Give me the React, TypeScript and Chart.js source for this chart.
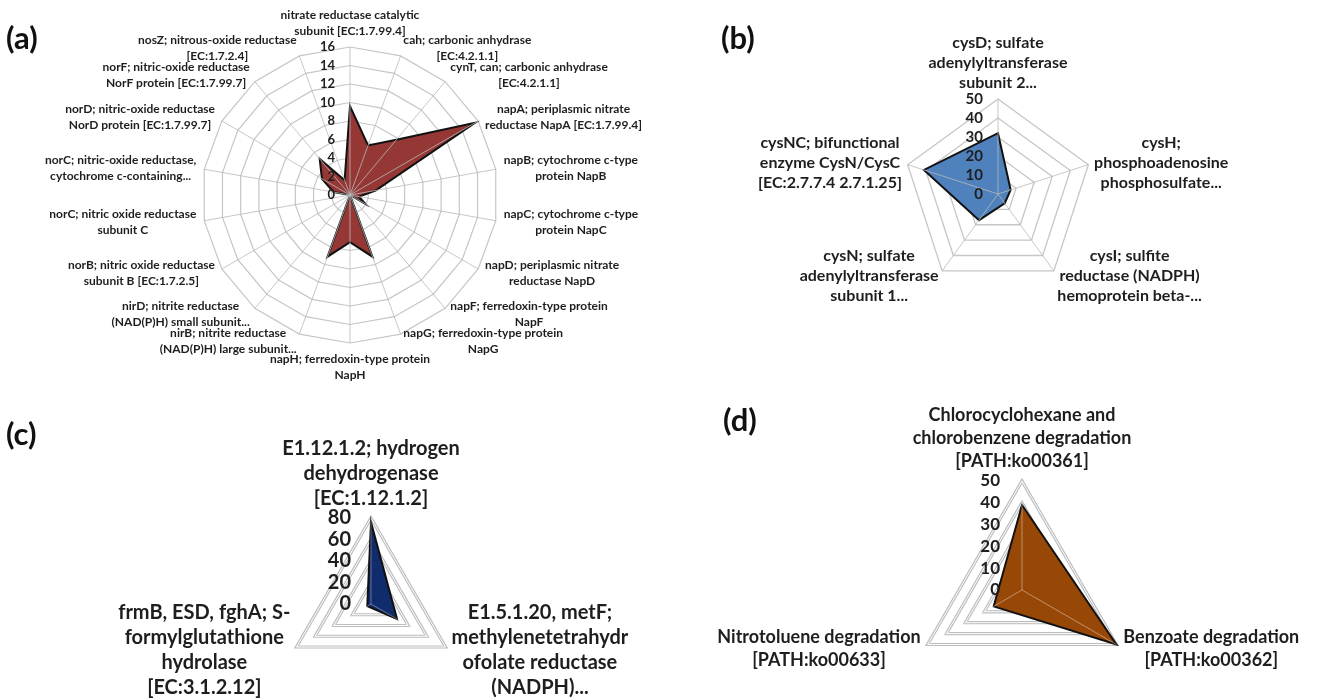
import React, { useEffect, useRef } from 'react';
import { Chart, registerables } from 'chart.js';

Chart.register(...registerables);

const W = 1318;
const H = 699;
const FONT = "Lato, 'Liberation Sans', 'DejaVu Sans', sans-serif";
const TEXT = '#1e1e1e';

// ---------- Panel (a): nitrogen metabolism ----------
const aCategories: string[][] = [
  ['nitrate reductase catalytic', 'subunit [EC:1.7.99.4]'],
  ['cah; carbonic anhydrase', '[EC:4.2.1.1]'],
  ['cynT, can; carbonic anhydrase', '[EC:4.2.1.1]'],
  ['napA; periplasmic nitrate', 'reductase NapA [EC:1.7.99.4]'],
  ['napB; cytochrome c-type', 'protein NapB'],
  ['napC; cytochrome c-type', 'protein NapC'],
  ['napD; periplasmic nitrate', 'reductase NapD'],
  ['napF; ferredoxin-type protein', 'NapF'],
  ['napG; ferredoxin-type protein', 'NapG'],
  ['napH; ferredoxin-type protein', 'NapH'],
  ['nirB; nitrite reductase', '(NAD(P)H) large subunit...'],
  ['nirD; nitrite reductase', '(NAD(P)H) small subunit...'],
  ['norB; nitric oxide reductase', 'subunit B [EC:1.7.2.5]'],
  ['norC; nitric oxide reductase', 'subunit C'],
  ['norC; nitric-oxide reductase,', 'cytochrome c-containing...'],
  ['norD; nitric-oxide reductase', 'NorD protein [EC:1.7.99.7]'],
  ['norF; nitric-oxide reductase', 'NorF protein [EC:1.7.99.7]'],
  ['nosZ; nitrous-oxide reductase', '[EC:1.7.2.4]'],
];
const aValues = [9.6, 5.7, 7.8, 15.6, 2.8, 1.0, 1.9, 0, 7.1, 5.1, 7.1, 0, 0, 0, 1.8, 3.5, 5.1, 1.7];
const aScale = { max: 16, step: 2 };

// ---------- Panel (b): sulfur metabolism ----------
const bCategories: string[][] = [
  ['cysD; sulfate', 'adenylyltransferase', 'subunit 2...'],
  ['cysH;', 'phosphoadenosine', 'phosphosulfate...'],
  ['cysI; sulfite', 'reductase (NADPH)', 'hemoprotein beta-...'],
  ['cysN; sulfate', 'adenylyltransferase', 'subunit 1...'],
  ['cysNC; bifunctional', 'enzyme CysN/CysC', '[EC:2.7.7.4 2.7.1.25]'],
];
const bValues = [32, 7, 6, 17, 41];
const bScale = { max: 50, step: 10 };

// ---------- Panel (c): methane / hydrogen ----------
const cCategories: string[][] = [
  ['E1.12.1.2; hydrogen', 'dehydrogenase', '[EC:1.12.1.2]'],
  ['E1.5.1.20, metF;', 'methylenetetrahydr', 'ofolate reductase', '(NADPH)...'],
  ['frmB, ESD, fghA; S-', 'formylglutathione', 'hydrolase', '[EC:3.1.2.12]'],
];
const cValues = [76, 28, 4];
const cScale = { max: 80, step: 20 };

// ---------- Panel (d): xenobiotics degradation ----------
const dCategories: string[][] = [
  ['Chlorocyclohexane and', 'chlorobenzene degradation', '[PATH:ko00361]'],
  ['Benzoate degradation', '[PATH:ko00362]'],
  ['Nitrotoluene degradation', '[PATH:ko00633]'],
];
const dValues = [39, 50, 15];
const dScale = { max: 50, step: 10 };

type PanelCfg = {
  key: string;
  categories: string[][];
  values: number[];
  max: number;
  step: number;
  cx: number;
  cy: number;
  R: number;
  fill: string;
  gridColor: string;
  gridWidth: number;
  doubleGrid: boolean;
  spokeColor: string;
  labelSize: number;
  lineH: number;
  labelGap: number;
  tickSize: number;
  tickGap: number;
};

const panels: PanelCfg[] = [
  {
    key: 'a', categories: aCategories, values: aValues, max: aScale.max, step: aScale.step,
    cx: 350, cy: 195, R: 148, fill: '#953735', gridColor: '#c6c6c6', gridWidth: 1.2, doubleGrid: false,
    spokeColor: 'rgba(185,185,185,0.8)', labelSize: 12, lineH: 16, labelGap: 8, tickSize: 13, tickGap: 15,
  },
  {
    key: 'b', categories: bCategories, values: bValues, max: bScale.max, step: bScale.step,
    cx: 998, cy: 194, R: 95, fill: '#4f81bd', gridColor: '#c6c6c6', gridWidth: 1.3, doubleGrid: false,
    spokeColor: 'rgba(185,185,185,0.8)', labelSize: 16, lineH: 20, labelGap: 6, tickSize: 15, tickGap: 15,
  },
  {
    key: 'c', categories: cCategories, values: cValues, max: cScale.max, step: cScale.step,
    cx: 371, cy: 604, R: 86, fill: '#112c6c', gridColor: '#bdbdbd', gridWidth: 3.2, doubleGrid: true,
    spokeColor: 'rgba(255,255,255,0.35)', labelSize: 20, lineH: 25, labelGap: 7, tickSize: 20, tickGap: 20,
  },
  {
    key: 'd', categories: dCategories, values: dValues, max: dScale.max, step: dScale.step,
    cx: 1022, cy: 605, R: 124, fill: '#984806', gridColor: '#bdbdbd', gridWidth: 3.2, doubleGrid: true,
    spokeColor: 'rgba(255,255,255,0.4)', labelSize: 18, lineH: 23, labelGap: 8, tickSize: 17, tickGap: 22,
  },
];

const panelLetters = [
  { text: '(a)', left: 6, top: 19 },
  { text: '(b)', left: 721, top: 19 },
  { text: '(c)', left: 6, top: 415 },
  { text: '(d)', left: 723, top: 401 },
];

function makeOverlay(p: PanelCfg) {
  return {
    id: 'overlay_' + p.key,
    beforeDatasetsDraw(chart: any) {
      if (!p.doubleGrid) return;
      const s: any = chart.scales.r;
      const ctx: CanvasRenderingContext2D = chart.ctx;
      ctx.save();
      ctx.strokeStyle = '#ffffff';
      ctx.lineWidth = 1;
      ctx.lineJoin = 'miter';
      s.ticks.forEach((t: any) => {
        if (t.value <= 0) return;
        ctx.beginPath();
        for (let i = 0; i < p.categories.length; i++) {
          const pt = s.getPointPositionForValue(i, t.value);
          if (i === 0) ctx.moveTo(pt.x, pt.y);
          else ctx.lineTo(pt.x, pt.y);
        }
        ctx.closePath();
        ctx.stroke();
      });
      ctx.restore();
    },
    afterDatasetsDraw(chart: any) {
      const s: any = chart.scales.r;
      const ctx: CanvasRenderingContext2D = chart.ctx;
      ctx.save();
      ctx.strokeStyle = p.spokeColor;
      ctx.lineWidth = 1;
      for (let i = 0; i < p.categories.length; i++) {
        const pt = s.getPointPositionForValue(i, s.max);
        ctx.beginPath();
        ctx.moveTo(s.xCenter, s.yCenter);
        ctx.lineTo(pt.x, pt.y);
        ctx.stroke();
      }
      ctx.restore();
    },
    afterDraw(chart: any) {
      const s: any = chart.scales.r;
      const ctx: CanvasRenderingContext2D = chart.ctx;
      ctx.save();
      ctx.fillStyle = TEXT;
      // tick labels, left of the vertical axis
      ctx.font = `bold ${p.tickSize}px ${FONT}`;
      ctx.textAlign = 'right';
      ctx.textBaseline = 'middle';
      s.ticks.forEach((t: any) => {
        const d = s.getDistanceFromCenterForValue(t.value);
        ctx.fillText(String(t.value), s.xCenter - p.tickGap, s.yCenter - d);
      });
      // category labels
      ctx.font = `bold ${p.labelSize}px ${FONT}`;
      ctx.textAlign = 'center';
      for (let i = 0; i < p.categories.length; i++) {
        const lines = p.categories[i];
        const ang = s.getIndexAngle(i);
        const sn = Math.sin(ang);
        const cs = Math.cos(ang);
        const pos = s.getPointPosition(i, s.drawingArea + p.labelGap);
        const bw = Math.max(...lines.map((l) => ctx.measureText(l).width));
        const bh = lines.length * p.lineH;
        let left: number;
        let top: number;
        if (Math.abs(sn) < 0.05) {
          left = pos.x - bw / 2;
          top = cs > 0 ? pos.y - bh : pos.y;
        } else {
          left = sn > 0 ? pos.x : pos.x - bw;
          top = pos.y - bh / 2;
        }
        lines.forEach((l, k) => {
          ctx.fillText(l, left + bw / 2, top + p.lineH * (k + 0.5));
        });
      }
      ctx.restore();
    },
  };
}

function RadarPanel({ p }: { p: PanelCfg }) {
  const ref = useRef<HTMLCanvasElement>(null);
  useEffect(() => {
    if (!ref.current) return;
    const chart = new Chart(ref.current, {
      type: 'radar',
      data: {
        labels: p.categories.map((c) => c.join(' ')),
        datasets: [
          {
            data: p.values,
            backgroundColor: p.fill,
            borderColor: '#111111',
            borderWidth: 2,
            pointRadius: 0,
            pointHoverRadius: 0,
            fill: true,
            tension: 0,
          },
        ],
      },
      options: {
        animation: false,
        responsive: false,
        maintainAspectRatio: false,
        events: [],
        layout: {
          padding: {
            left: p.cx - p.R,
            right: W - p.cx - p.R,
            top: p.cy - p.R,
            bottom: H - p.cy - p.R,
          },
        },
        plugins: { legend: { display: false }, tooltip: { enabled: false }, title: { display: false } },
        scales: {
          r: {
            min: 0,
            max: p.max,
            ticks: { display: false, stepSize: p.step },
            grid: { color: p.gridColor, lineWidth: p.gridWidth },
            angleLines: { display: false },
            pointLabels: { display: false },
          },
        },
      } as any,
      plugins: [makeOverlay(p)],
    });
    return () => chart.destroy();
  }, []);
  return (
    <canvas
      ref={ref}
      width={W}
      height={H}
      style={{ position: 'absolute', left: 0, top: 0, width: W, height: H }}
    />
  );
}

export default function App() {
  return (
    <div style={{ position: 'absolute', left: 0, top: 0, width: W, height: H, background: '#ffffff', overflow: 'hidden' }}>
      {panels.map((p) => (
        <RadarPanel key={p.key} p={p} />
      ))}
      {panelLetters.map((l) => (
        <div
          key={l.text}
          style={{
            position: 'absolute',
            left: l.left,
            top: l.top,
            font: `bold 31px ${FONT}`,
            color: '#111111',
            lineHeight: '36px',
          }}
        >
          {l.text}
        </div>
      ))}
    </div>
  );
}
